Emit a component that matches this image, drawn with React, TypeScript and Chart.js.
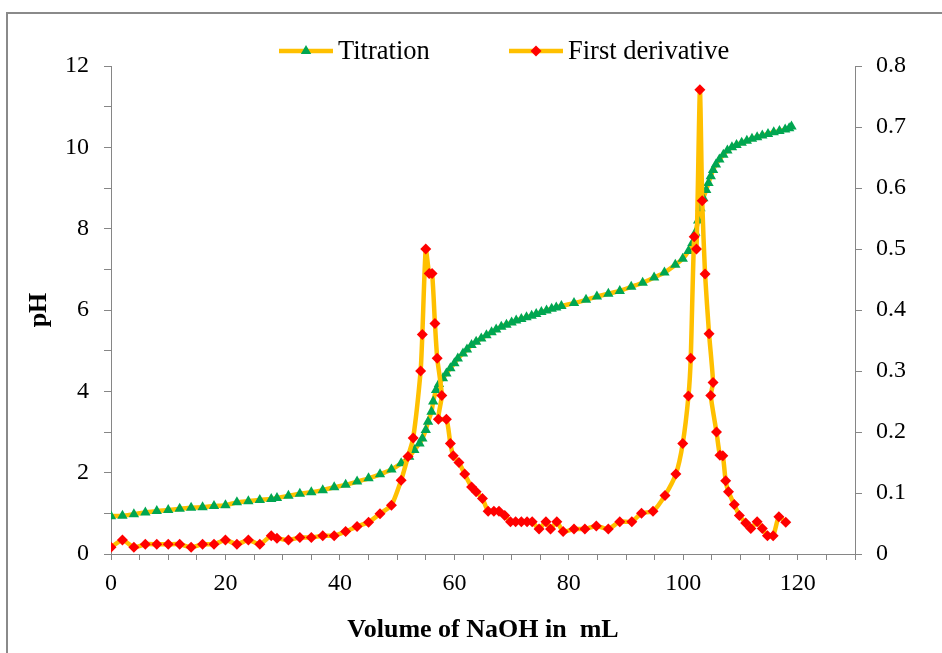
import React, { useEffect, useRef } from 'react';
import { Chart, registerables } from 'chart.js';

Chart.register(...registerables);

// Titration curve: volume of NaOH added (mL) and measured pH
const titrationVolume = [
  0, 2, 4, 6, 8, 10, 12, 14, 16, 18, 20, 22, 24, 26, 28,
  29, 31, 33, 35, 37, 39, 41, 43, 45, 47, 49,
  50.7, 52.1, 53, 53.9, 54.4, 55, 55.4, 56, 56.3, 56.8,
  57.3, 58, 58.6, 59.3, 60, 60.6, 61.5, 62.2, 63, 63.8,
  64.7, 65.6, 66.5, 67.3, 68.2, 69.1, 70, 70.8, 71.7, 72.6,
  73.5, 74.3, 75.2, 76.1, 77, 77.8, 78.7,
  80.9, 83, 84.9, 86.9, 88.9, 90.9, 92.9, 94.9,
  96.7, 98.6, 99.9, 100.9, 101.6, 102.1, 102.6, 103, 103.5,
  104, 104.4, 104.8, 105.2, 105.7, 106.3, 107, 107.7, 108.5, 109.3,
  110.2, 111.1, 112, 112.9, 113.8, 114.8, 115.8, 116.8, 117.8, 118.5, 118.9,
];
const titrationPH = [
  0.93, 0.94, 0.98, 1.02, 1.06, 1.08, 1.11, 1.14, 1.15, 1.18, 1.2, 1.27, 1.3, 1.33, 1.35,
  1.38, 1.43, 1.48, 1.52, 1.57, 1.64, 1.7, 1.78, 1.86, 1.96, 2.08,
  2.23, 2.39, 2.56, 2.72, 2.84, 3.05, 3.25, 3.5, 3.75, 4.03,
  4.18, 4.32, 4.44, 4.57, 4.69, 4.81, 4.93, 5.03, 5.14, 5.22,
  5.3, 5.38, 5.45, 5.52, 5.59, 5.64, 5.69, 5.74, 5.78, 5.82,
  5.86, 5.9, 5.95, 5.99, 6.03, 6.06, 6.1,
  6.17, 6.25, 6.33, 6.4, 6.47, 6.57, 6.67, 6.8,
  6.92, 7.11, 7.26, 7.45, 7.65, 7.9, 8.2, 8.5, 8.75,
  8.95, 9.12, 9.29, 9.44, 9.58, 9.7, 9.82, 9.92, 10, 10.06,
  10.11, 10.16, 10.21, 10.25, 10.29, 10.33, 10.37, 10.4, 10.44, 10.47, 10.51,
];

// First derivative dpH/dV against volume
const derivativeVolume = [
  0, 2, 4, 6, 8, 10, 12, 14, 16, 18, 20, 22, 24, 26, 28,
  29, 31, 33, 35, 37, 39, 41, 43, 45, 47, 49,
  50.7, 51.9, 52.8, 54.1, 54.4, 55, 55.6, 56.1, 56.6, 57,
  57.8, 57.2, 58.6, 59.3, 59.8, 60.8, 61.8, 63, 63.8, 64.9,
  65.9, 66.9, 67.8, 68.8, 69.8, 70.7, 71.7, 72.7, 73.6, 74.8,
  76, 76.8, 77.9, 79, 80.9, 82.8, 84.8, 86.9, 88.9, 91,
  92.7, 94.7, 96.8, 98.7, 99.9, 100.9, 101.3, 101.9, 102.3, 102.9,
  103.3, 103.8, 104.5, 105.2, 104.8, 105.8, 106.4, 106.9, 107.4, 107.9,
  108.9, 109.8, 110.9, 111.8, 112.9, 113.8, 114.7, 115.7, 116.7, 117.9,
];
const derivativeValue = [
  0.011, 0.023, 0.011, 0.016, 0.016, 0.016, 0.016, 0.011, 0.016, 0.016, 0.023, 0.016, 0.023, 0.016, 0.03,
  0.026, 0.023, 0.027, 0.027, 0.03, 0.03, 0.037, 0.045, 0.052, 0.066, 0.08,
  0.121, 0.16, 0.19, 0.3, 0.36, 0.5, 0.46, 0.46, 0.378, 0.321,
  0.26, 0.221, 0.221, 0.181, 0.161, 0.15, 0.131, 0.11, 0.102, 0.091,
  0.07, 0.07, 0.07, 0.063, 0.053, 0.053, 0.053, 0.053, 0.053, 0.041,
  0.053, 0.041, 0.053, 0.037, 0.041, 0.041, 0.046, 0.041, 0.053, 0.053,
  0.067, 0.07, 0.096, 0.131, 0.181, 0.259, 0.321, 0.52, 0.5, 0.761,
  0.579, 0.459, 0.361, 0.281, 0.26, 0.2, 0.162, 0.161, 0.12, 0.102,
  0.081, 0.063, 0.051, 0.042, 0.053, 0.042, 0.03, 0.03, 0.061, 0.052,
];

// Labelled ticks
const volumeTickLabels = [0, 20, 40, 60, 80, 100, 120];
const phTickLabels = [0, 2, 4, 6, 8, 10, 12];
const derivativeTickLabels = ['0', '0.1', '0.2', '0.3', '0.4', '0.5', '0.6', '0.7', '0.8'];

const seriesNames = ['Titration', 'First derivative'];

const LINE_COLOR = '#FFC000';
const TRIANGLE_COLOR = '#00A651';
const DIAMOND_COLOR = '#FF0000';
const AXIS_COLOR = '#868686';
const SERIF = '"Liberation Serif", "Times New Roman", serif';

function drawMarker(ctx: CanvasRenderingContext2D, shape: string, x: number, y: number, r: number, color: string) {
  ctx.beginPath();
  if (shape === 'triangle') {
    for (let i = 0; i < 3; i++) {
      const a = (i * 2 * Math.PI) / 3;
      const px = x + Math.sin(a) * r;
      const py = y - Math.cos(a) * r;
      if (i === 0) ctx.moveTo(px, py);
      else ctx.lineTo(px, py);
    }
  } else {
    ctx.moveTo(x - r, y);
    ctx.lineTo(x, y - r);
    ctx.lineTo(x + r, y);
    ctx.lineTo(x, y + r);
  }
  ctx.closePath();
  ctx.fillStyle = color;
  ctx.fill();
}

// Legend drawn as a line sample with the series marker in its middle
const lineLegend = {
  id: 'lineLegend',
  afterDraw(chart: any) {
    const ctx: CanvasRenderingContext2D = chart.ctx;
    const y = 51;
    const entries = [
      { x: 279, shape: 'triangle', color: TRIANGLE_COLOR, r: 6 },
      { x: 509, shape: 'diamond', color: DIAMOND_COLOR, r: 5.5 },
    ];
    ctx.save();
    entries.forEach((e, i) => {
      ctx.strokeStyle = LINE_COLOR;
      ctx.lineWidth = 4.5;
      ctx.lineCap = 'butt';
      ctx.beginPath();
      ctx.moveTo(e.x, y);
      ctx.lineTo(e.x + 54, y);
      ctx.stroke();
      drawMarker(ctx, e.shape, e.x + 27, y, e.r, e.color);
      ctx.fillStyle = '#000';
      ctx.font = `26.5px ${SERIF}`;
      ctx.textBaseline = 'middle';
      ctx.textAlign = 'left';
      ctx.fillText(chart.data.datasets[i].label, e.x + 59, y + 1);
    });
    ctx.restore();
  },
};

export default function App() {
  const canvasRef = useRef<HTMLCanvasElement | null>(null);

  useEffect(() => {
    const canvas = canvasRef.current;
    if (!canvas) return;

    const titrationPoints = titrationVolume.map((v, i) => ({ x: v, y: titrationPH[i] }));
    const derivativePoints = derivativeVolume.map((v, i) => ({ x: v, y: derivativeValue[i] }));

    const tickFont = { family: SERIF, size: 24 };
    const gridCommon = {
      drawOnChartArea: false,
      drawTicks: true,
      tickLength: 7,
      tickColor: AXIS_COLOR,
      color: AXIS_COLOR,
    };

    const chart = new Chart(canvas, {
      type: 'line',
      data: {
        datasets: [
          {
            label: seriesNames[0],
            data: titrationPoints,
            yAxisID: 'y',
            borderColor: LINE_COLOR,
            borderWidth: 4.5,
            tension: 0.25,
            pointStyle: 'triangle',
            pointRadius: 6,
            pointBackgroundColor: TRIANGLE_COLOR,
            pointBorderColor: TRIANGLE_COLOR,
            pointBorderWidth: 0,
            order: 1,
          },
          {
            label: seriesNames[1],
            data: derivativePoints,
            yAxisID: 'y1',
            borderColor: LINE_COLOR,
            borderWidth: 4.5,
            tension: 0.2,
            pointStyle: 'rectRot',
            pointRadius: 5.5,
            pointBackgroundColor: DIAMOND_COLOR,
            pointBorderColor: DIAMOND_COLOR,
            pointBorderWidth: 0,
            order: 0,
          },
        ],
      },
      options: {
        responsive: false,
        animation: false,
        parsing: false,
        layout: { padding: { top: 66, left: 0, right: 0, bottom: 0 } },
        plugins: {
          legend: { display: false },
          tooltip: { enabled: false },
        },
        scales: {
          x: {
            type: 'linear',
            position: 'bottom',
            min: 0,
            max: 130,
            afterFit: (s: any) => { s.height = 99; },
            border: { color: AXIS_COLOR, width: 1 },
            grid: { ...gridCommon, tickLength: 6 },
            ticks: {
              stepSize: 5,
              autoSkip: false,
              maxRotation: 0,
              padding: 9,
              color: '#000',
              font: tickFont,
              callback: (v: any) => (volumeTickLabels.includes(Number(v)) ? String(v) : ''),
            },
            title: {
              display: true,
              text: 'Volume of NaOH in  mL',
              color: '#000',
              font: { family: SERIF, size: 26, weight: 'bold', lineHeight: 1.2 },
              padding: { top: 0, bottom: 7 },
            },
          },
          y: {
            type: 'linear',
            position: 'left',
            min: 0,
            max: 12,
            afterFit: (s: any) => { s.width = 111; },
            border: { color: AXIS_COLOR, width: 1 },
            grid: gridCommon,
            ticks: {
              stepSize: 1,
              padding: 15,
              color: '#000',
              font: tickFont,
              callback: (v: any) => (phTickLabels.includes(Number(v)) ? String(v) : ''),
            },
            title: {
              display: true,
              text: 'pH',
              color: '#000',
              font: { family: SERIF, size: 26, weight: 'bold', lineHeight: 1.2 },
              padding: { top: 24, bottom: 0 },
            },
          },
          y1: {
            type: 'linear',
            position: 'right',
            min: 0,
            max: 0.8,
            afterFit: (s: any) => { s.width = 87; },
            border: { color: AXIS_COLOR, width: 1 },
            grid: gridCommon,
            ticks: {
              stepSize: 0.1,
              padding: 14,
              color: '#000',
              font: tickFont,
              callback: (v: any) => derivativeTickLabels[Math.round(Number(v) * 10)] ?? '',
            },
          },
        },
      },
      plugins: [lineLegend],
    } as any);

    return () => chart.destroy();
  }, []);

  return (
    <div style={{ position: 'absolute', left: 0, top: 0, width: 942, height: 653, overflow: 'hidden', background: '#fff' }}>
      <div
        style={{
          position: 'absolute',
          left: 6,
          top: 12,
          width: 1200,
          height: 1200,
          borderLeft: '2px solid #8a8a8a',
          borderTop: '2px solid #8a8a8a',
          boxSizing: 'border-box',
        }}
      />
      <canvas ref={canvasRef} width={942} height={653} style={{ position: 'absolute', left: 0, top: 0 }} />
    </div>
  );
}
